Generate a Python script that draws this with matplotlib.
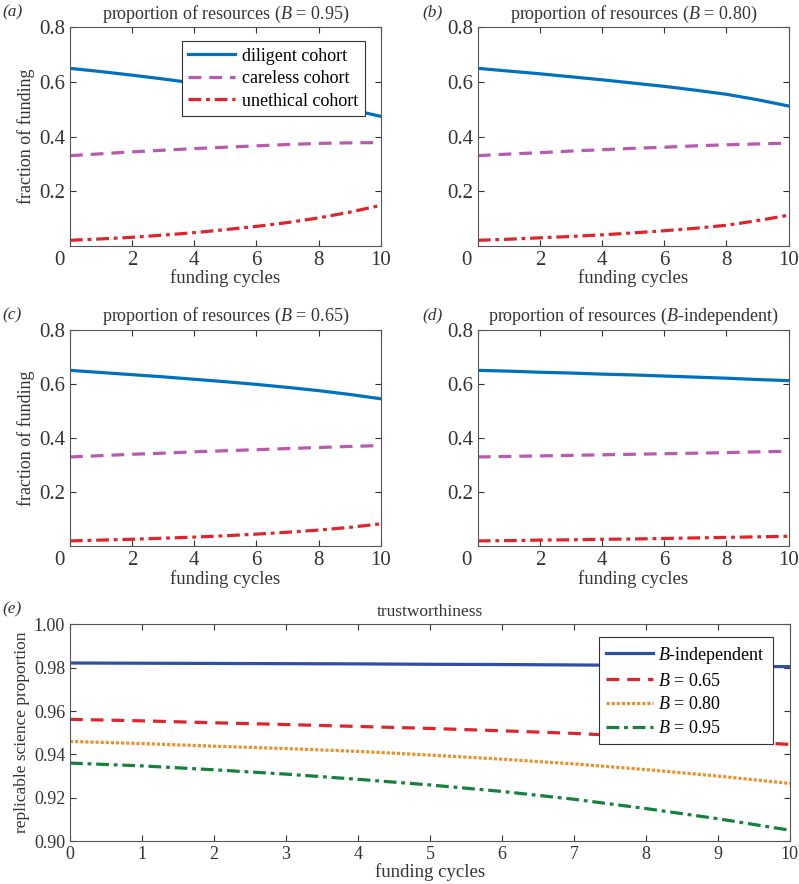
import matplotlib
matplotlib.use('Agg')
import matplotlib.pyplot as plt
import matplotlib.transforms as mtransforms

plt.rcParams['font.family'] = ['Liberation Serif', 'DejaVu Serif']
plt.rcParams['mathtext.fontset'] = 'custom'
plt.rcParams['mathtext.it'] = 'Liberation Serif:italic'
plt.rcParams['mathtext.rm'] = 'Liberation Serif'

cycles = [0, 1, 2, 3, 4, 5, 6, 7, 8, 9, 10]

# (a) B = 0.95
diligent_95 = [0.650, 0.638, 0.625, 0.611, 0.596, 0.580, 0.563, 0.544, 0.523, 0.500, 0.474]
careless_95 = [0.330, 0.337, 0.344, 0.350, 0.356, 0.361, 0.366, 0.371, 0.375, 0.377, 0.378]
unethical_95 = [0.020, 0.025, 0.031, 0.039, 0.048, 0.059, 0.071, 0.085, 0.102, 0.123, 0.148]
# (b) B = 0.80
diligent_80 = [0.650, 0.640, 0.630, 0.619, 0.608, 0.596, 0.584, 0.570, 0.555, 0.535, 0.512]
careless_80 = [0.330, 0.336, 0.341, 0.347, 0.352, 0.357, 0.361, 0.366, 0.370, 0.373, 0.376]
unethical_80 = [0.020, 0.024, 0.029, 0.034, 0.040, 0.047, 0.055, 0.064, 0.075, 0.092, 0.112]
# (c) B = 0.65
diligent_65 = [0.650, 0.642, 0.634, 0.626, 0.617, 0.608, 0.598, 0.587, 0.575, 0.561, 0.545]
careless_65 = [0.330, 0.335, 0.340, 0.344, 0.349, 0.353, 0.357, 0.361, 0.365, 0.369, 0.372]
unethical_65 = [0.020, 0.023, 0.026, 0.030, 0.034, 0.039, 0.045, 0.052, 0.060, 0.070, 0.083]
# (d) B-independent
diligent_ind = [0.650, 0.647, 0.643, 0.640, 0.636, 0.633, 0.629, 0.625, 0.621, 0.616, 0.612]
careless_ind = [0.330, 0.332, 0.334, 0.336, 0.338, 0.340, 0.342, 0.344, 0.346, 0.349, 0.351]
unethical_ind = [0.020, 0.021, 0.023, 0.024, 0.026, 0.027, 0.029, 0.031, 0.033, 0.035, 0.037]

# (e) trustworthiness
trust_ind = [0.9822, 0.9821, 0.9820, 0.9819, 0.9818, 0.9816, 0.9815, 0.9813, 0.9811, 0.9808, 0.9805]
trust_65 = [0.9562, 0.9555, 0.9546, 0.9538, 0.9529, 0.9520, 0.9509, 0.9497, 0.9481, 0.9465, 0.9446]
trust_80 = [0.9460, 0.9450, 0.9438, 0.9427, 0.9414, 0.9397, 0.9378, 0.9356, 0.9330, 0.9300, 0.9266]
trust_95 = [0.9360, 0.9347, 0.9329, 0.9309, 0.9285, 0.9259, 0.9229, 0.9193, 0.9150, 0.9103, 0.9050]

c_dil = '#0072BD'
c_car = '#B85AAE'
c_une = '#E0242C'
ink = '#333333'

fig = plt.figure(figsize=(7.99, 8.84), dpi=100)

panels = [
    ('(a)', 'proportion of resources ($B$ = 0.95)', diligent_95, careless_95, unethical_95, [0.0876, 0.722, 0.389, 0.247], True),
    ('(b)', 'proportion of resources ($B$ = 0.80)', diligent_80, careless_80, unethical_80, [0.598, 0.722, 0.389, 0.247], False),
    ('(c)', 'proportion of resources ($B$ = 0.65)', diligent_65, careless_65, unethical_65, [0.0876, 0.382, 0.389, 0.245], True),
    ('(d)', 'proportion of resources ($B$-independent)', diligent_ind, careless_ind, unethical_ind, [0.598, 0.382, 0.389, 0.245], False),
]


def style_axes(ax):
    ax.tick_params(direction='in', top=True, right=True, colors=ink, length=4)
    for s in ax.spines.values():
        s.set_color('#555555')
        s.set_linewidth(0.8)


for tag, title, d, c, u, pos, ylab in panels:
    ax = fig.add_axes(pos)
    ax.plot(cycles, d, color=c_dil, lw=2.3, label='diligent cohort')
    ax.plot(cycles, c, color=c_car, lw=2.3, ls=(0, (4, 2.5)), label='careless cohort')
    ax.plot(cycles, u, color=c_une, lw=2.3, ls=(0, (4, 1.5, 1.2, 1.5)), label='unethical cohort')
    ax.set_xlim(0, 10)
    ax.set_ylim(0, 0.8)
    ax.set_xticks([0, 2, 4, 6, 8, 10])
    ax.set_yticks([0.2, 0.4, 0.6, 0.8])
    ax.set_yticklabels(['0.2', '0.4', '0.6', '0.8'])
    ax.tick_params(labelsize=15)
    style_axes(ax)
    # nudge the "0" left so it clears the y labels
    lbl0 = ax.get_xticklabels()[0]
    lbl0.set_transform(lbl0.get_transform() + mtransforms.ScaledTranslation(-0.11, 0, fig.dpi_scale_trans))
    ax.set_title(title, fontsize=13, color=ink, pad=6)
    ax.set_xlabel('funding cycles', fontsize=13.5, color=ink, labelpad=0)
    if ylab:
        ax.set_ylabel('fraction of funding', fontsize=13, color=ink, labelpad=3)
    fig.text(pos[0] - (0.085 if ylab else 0.069), pos[1] + pos[3] + 0.012, tag,
             fontsize=12.5, style='italic', color=ink)
    if tag == '(a)':
        leg = ax.legend(loc='upper right', bbox_to_anchor=(0.949, 0.936), fontsize=13,
                        handlelength=2.6, fancybox=False, framealpha=1, borderaxespad=0,
                        borderpad=0.35, labelspacing=0.3, handletextpad=0.4)
        leg.get_frame().set_edgecolor('#333333')
        leg.get_frame().set_linewidth(0.8)

ax = fig.add_axes([0.0876, 0.0486, 0.901, 0.245])
ax.plot(cycles, trust_ind, color='#2F4FA2', lw=2.3, label='$B$-independent')
ax.plot(cycles, trust_65, color='#E0242C', lw=2.3, ls=(0, (4, 2.5)), label='$B$ = 0.65')
ax.plot(cycles, trust_80, color='#E8922E', lw=2.3, ls=(0, (1, 0.6)), label='$B$ = 0.80')
ax.plot(cycles, trust_95, color='#16803C', lw=2.3, ls=(0, (4, 1.5, 1.2, 1.5)), label='$B$ = 0.95')
ax.set_xlim(0, 10)
ax.set_ylim(0.90, 1.00)
ax.set_xticks(cycles)
ax.set_yticks([0.90, 0.92, 0.94, 0.96, 0.98, 1.00])
ax.set_yticklabels(['0.90', '0.92', '0.94', '0.96', '0.98', '1.00'])
ax.tick_params(labelsize=13)
style_axes(ax)
ax.set_title('trustworthiness', fontsize=12.5, color=ink, pad=6)
ax.set_xlabel('funding cycles', fontsize=13.5, color=ink, labelpad=0)
ax.set_ylabel('replicable science proportion', fontsize=12.5, color=ink, labelpad=3)
fig.text(0.003, 0.294 + 0.012, '(e)', fontsize=12.5, style='italic', color=ink)
leg = ax.legend(loc='upper right', bbox_to_anchor=(0.976, 0.94), fontsize=13,
                handlelength=2.6, fancybox=False, framealpha=1, borderaxespad=0,
                borderpad=0.4, labelspacing=0.38, handletextpad=0.3)
leg.get_frame().set_edgecolor('#333333')
leg.get_frame().set_linewidth(0.8)

fig.savefig('out.png', dpi=100)
